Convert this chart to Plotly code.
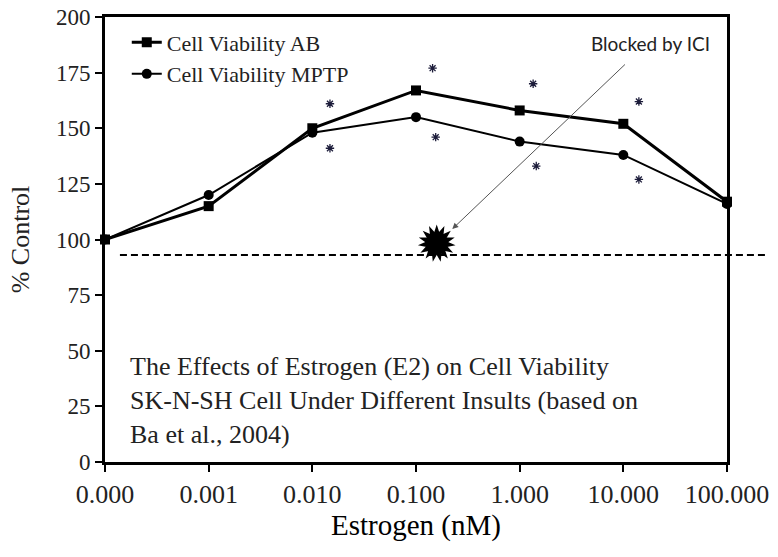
import plotly.graph_objects as go

# ---- data ----
doses = ["0.000", "0.001", "0.010", "0.100", "1.000", "10.000", "100.000"]
viab_ab = [100, 115, 150, 167, 158, 152, 117]
viab_mptp = [100, 120, 148, 155, 144, 138, 116]

# significance asterisks (category position, value)
ast_x = [2.17, 2.17, 3.16, 3.19, 4.13, 4.16, 5.15, 5.15]
ast_y = [161, 141, 177, 146, 170, 133, 162, 127]

# ICI-blocked point
ici_x = [3.2]
ici_y = [98.3]
baseline = 93

arrow_head = (3.35, 104.7)
arrow_tail = (5.03, 179.3)

note_lines = [
    "The Effects of Estrogen (E2) on Cell Viability",
    "SK-N-SH Cell Under Different Insults (based on",
    "Ba et al., 2004)",
]

xpos = list(range(len(doses)))
SERIF = "Liberation Serif, Times New Roman, serif"

fig = go.Figure()
fig.add_trace(go.Scatter(
    x=xpos, y=viab_ab, name="Cell Viability AB", mode="lines+markers",
    line=dict(color="black", width=3),
    marker=dict(symbol="square", size=10, color="black"),
    legendgroup="a", cliponaxis=False))
fig.add_trace(go.Scatter(
    x=xpos, y=viab_mptp, name="Cell Viability MPTP", mode="lines+markers",
    line=dict(color="black", width=2),
    marker=dict(symbol="circle", size=10, color="black"),
    legendgroup="b", cliponaxis=False))

fig.add_trace(go.Scatter(
    x=ast_x, y=ast_y, mode="markers", showlegend=False,
    marker=dict(symbol="asterisk-open", size=7, color="#1c1c3a",
                line=dict(color="#1c1c3a", width=1.3))))

for ang in (0, 24, 48):
    fig.add_trace(go.Scatter(
        x=ici_x, y=ici_y, mode="markers", showlegend=False,
        marker=dict(symbol="star", size=27, angle=ang, color="black",
                    line=dict(width=0))))

fig.add_shape(type="line", xref="paper", yref="paper",
              x0=0.024, x1=1.064, y0=baseline / 200, y1=baseline / 200,
              line=dict(color="black", width=2, dash="7px,4px"))

fig.add_annotation(x=arrow_head[0], y=arrow_head[1], ax=arrow_tail[0], ay=arrow_tail[1],
                   xref="x", yref="y", axref="x", ayref="y", text="",
                   showarrow=True, arrowhead=2, arrowsize=1.2, arrowwidth=1,
                   arrowcolor="#555")
fig.add_annotation(x=5.26, y=188.3, xref="x", yref="y", text="Blocked by ICI",
                   showarrow=False, font=dict(family="Lato, sans-serif", size=19, color="#222"))

fig.add_annotation(x=0.037, y=(462 - 400.5) / 445, xref="paper", yref="paper",
                   xanchor="left", yanchor="middle", align="left",
                   text="<br>".join(note_lines), showarrow=False,
                   font=dict(family=SERIF, size=26, color="#222"))

fig.update_layout(
    width=778, height=557,
    margin=dict(l=105, r=51, t=17, b=95, autoexpand=False),
    paper_bgcolor="white", plot_bgcolor="white",
    font=dict(family=SERIF, color="#222"),
    legend=dict(x=0.035, y=0.99, xanchor="left", yanchor="top",
                font=dict(family=SERIF, size=22, color="#222"),
                bgcolor="rgba(0,0,0,0)", tracegroupgap=0),
    xaxis=dict(range=[0, 6], tickvals=xpos, ticktext=doses, automargin=False,
               showline=True, linecolor="black", linewidth=3, mirror=True,
               ticks="outside", ticklen=7, tickwidth=2, tickcolor="black",
               showgrid=False, zeroline=False,
               tickfont=dict(size=26, family=SERIF, color="#222"),
               title=dict(text="Estrogen (nM)", font=dict(size=29, family=SERIF, color="black"),
                          standoff=4)),
    yaxis=dict(range=[0, 200], tickvals=[0, 25, 50, 75, 100, 125, 150, 175, 200],
               automargin=False,
               showline=True, linecolor="black", linewidth=3, mirror=True,
               ticks="outside", ticklen=7, tickwidth=2, tickcolor="black",
               showgrid=False, zeroline=False,
               tickfont=dict(size=23, family=SERIF, color="#222"),
               title=dict(text="% Control", font=dict(size=26, family=SERIF, color="#222"),
                          standoff=19)),
)

# remove the default 8px page margin so the figure sits at the window's top-left corner
fig.write_html("out.html", config={"displayModeBar": False},
               post_script="document.body.style.margin='0';")
